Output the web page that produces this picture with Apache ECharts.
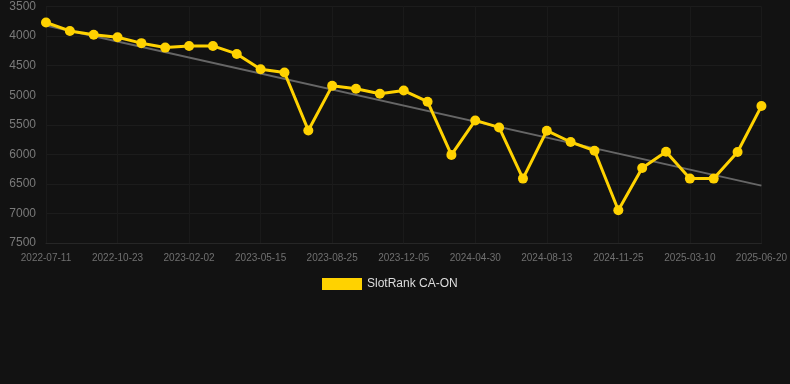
<!DOCTYPE html>
<html><head><meta charset="utf-8">
<script src="https://cdn.jsdelivr.net/npm/echarts@6/dist/echarts.min.js"></script>
<style>html,body{margin:0;padding:0;background:#121212;}#c{width:790px;height:384px;}</style>
</head><body><div id="c"></div>
<script>
const categories = ['2022-07-11','2022-08-15','2022-09-19','2022-10-23','2022-11-27','2022-12-29','2023-02-02','2023-03-08','2023-04-11','2023-05-15','2023-06-18','2023-07-22','2023-08-25','2023-09-28','2023-11-01','2023-12-05','2024-01-22','2024-03-11','2024-04-30','2024-06-04','2024-07-09','2024-08-13','2024-09-17','2024-10-21','2024-11-25','2024-12-30','2025-02-03','2025-03-10','2025-04-13','2025-05-17','2025-06-20'];
const rankValues = [3770,3913,3978,4020,4120,4195,4168,4167,4302,4561,4617,5596,4842,4892,4977,4922,5110,6010,5427,5545,6411,5601,5792,5939,6946,6231,5956,6411,6411,5961,5184];
const trendValues = [3822,null,null,null,null,null,null,null,null,null,null,null,null,null,null,null,null,null,null,null,null,null,null,null,null,null,null,null,null,null,6530];
const yTicks = {min:3500, max:7500, interval:500};

const chart = echarts.init(document.getElementById('c'));
chart.setOption({
  backgroundColor:'#121212',
  animation:false,
  grid:{left:46, right:28, top:6.5, bottom:141},
  legend:{
    data:[{name:'SlotRank CA-ON', icon:'rect'}],
    top:273, left:317, itemWidth:40, itemHeight:12, itemGap:10,
    textStyle:{color:'#dddddd', fontSize:12, fontFamily:'Liberation Sans, Arial, sans-serif'}
  },
  xAxis:{
    type:'category', data:categories, boundaryGap:false,
    axisLine:{lineStyle:{color:'#262626'}},
    axisTick:{show:false},
    axisLabel:{interval:2, color:'#707070', fontSize:10, margin:10, fontFamily:'Liberation Sans, Arial, sans-serif'},
    splitLine:{show:true, interval:2, lineStyle:{color:'#1a1a1a'}}
  },
  yAxis:{
    type:'value', inverse:true, min:yTicks.min, max:yTicks.max, interval:yTicks.interval,
    axisLine:{show:false}, axisTick:{show:false},
    axisLabel:{color:'#7a7a7a', fontSize:12, margin:10, fontFamily:'Liberation Sans, Arial, sans-serif', formatter:function(v){return String(v);}},
    splitLine:{lineStyle:{color:'#1c1c1c'}}
  },
  series:[
    {
      name:'Trend', type:'line', data:trendValues, connectNulls:true,
      symbol:'none', lineStyle:{color:'#666666', width:2}, z:1, silent:true
    },
    {
      name:'SlotRank CA-ON', type:'line', data:rankValues,
      symbol:'circle', symbolSize:10,
      itemStyle:{color:'#FFD200'},
      lineStyle:{color:'#FFD200', width:3}, z:2
    }
  ]
});
</script></body></html>
